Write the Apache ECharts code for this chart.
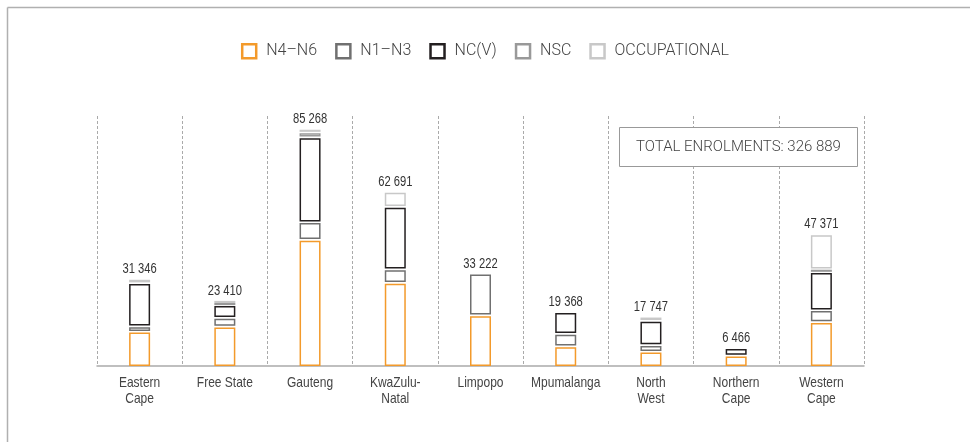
<!DOCTYPE html>
<html>
<head>
<meta charset="utf-8">
<script src="https://cdn.jsdelivr.net/npm/echarts@6/dist/echarts.min.js"></script>
<style>
html,body{margin:0;padding:0;background:#fff;}
#chart{width:970px;height:442px;}
</style>
</head>
<body>
<div id="chart"></div>
<script>
const categories = ['Eastern\nCape', 'Free State', 'Gauteng', 'KwaZulu-\nNatal', 'Limpopo', 'Mpumalanga', 'North\nWest', 'Northern\nCape', 'Western\nCape'];
const seriesNames = ['N4–N6', 'N1–N3', 'NC(V)', 'NSC', 'OCCUPATIONAL'];
const n4n6 = [12330, 14200, 45400, 29900, 18200, 7070, 5130, 3700, 15800];
const n1n3 = [1940, 3100, 6350, 4900, 15022, 4470, 2400, 0, 4270];
const ncv = [15540, 4600, 30550, 22500, 0, 7828, 8720, 2766, 13750];
const nsc = [0, 800, 1780, 0, 0, 0, 0, 0, 930];
const occupational = [1536, 710, 1188, 5391, 0, 0, 1497, 0, 12621];
const colors = ['#f39a2b', '#707070', '#231f20', '#999999', '#c8c8c8'];

const allSeries = [n4n6, n1n3, ncv, nsc, occupational];
const totals = categories.map((c, i) => allSeries.reduce((s, arr) => s + arr[i], 0));
const grandTotal = totals.reduce((a, b) => a + b, 0);
const fmt = v => String(v).replace(/\B(?=(\d{3})+(?!\d))/g, ' ');

const LIGHT = 'Roboto, "Liberation Sans", sans-serif';
const NARROWBASE = '"Liberation Sans", Arial, sans-serif';
const G = 1.6;
const BW = 19.5;

function makeRender(color) {
  return function (params, api) {
    const i = api.value(0), base = api.value(1), v = api.value(2);
    if (!v) return;
    const x = api.coord([i, 0])[0];
    const yb = api.coord([i, base])[1];
    const yt = api.coord([i, base + v])[1];
    let top = yt + G;
    let bottom = base === 0 ? yb - 0.75 : yb - G;
    if (bottom - top < 0.6) { const m = (top + bottom) / 2; top = m - 0.3; bottom = m + 0.3; }
    return {
      type: 'rect',
      shape: { x: x - BW / 2, y: top, width: BW, height: bottom - top },
      style: { fill: '#fff', stroke: color, lineWidth: 1.5 }
    };
  };
}

const cum = categories.map(() => 0);
const series = allSeries.map((arr, s) => {
  const data = arr.map((v, i) => { const d = [i, cum[i], v]; cum[i] += v; return d; });
  return {
    name: seriesNames[s],
    type: 'custom',
    renderItem: makeRender(colors[s]),
    data: data,
    encode: { x: 0, y: 2 },
    itemStyle: { color: '#fff', borderColor: colors[s], borderWidth: 2.5 },
    silent: true,
    animation: false
  };
});
// totals above each stack
series.push({
  name: 'totals',
  type: 'custom',
  data: totals.map((t, i) => [i, t]),
  encode: { x: 0, y: 1 },
  renderItem: function (params, api) {
    const p = api.coord([api.value(0), api.value(1)]);
    return {
      type: 'text',
      x: p[0], y: p[1] - 10,
      scaleX: 0.8,
      style: {
        x: 0, y: 0,
        text: fmt(api.value(1)),
        align: 'center', verticalAlign: 'middle',
        font: '14px ' + NARROWBASE,
        fill: '#333'
      }
    };
  },
  silent: true,
  animation: false
});
// category labels under the axis (condensed)
series.push({
  name: 'catLabels',
  type: 'custom',
  data: categories.map((c, i) => [i, 0]),
  encode: { x: 0, y: 1 },
  clip: false,
  renderItem: function (params, api) {
    const i = api.value(0);
    const p = api.coord([i, 0]);
    return {
      type: 'text',
      x: p[0], y: p[1] + 9,
      scaleX: 0.8,
      style: {
        x: 0, y: 0,
        text: categories[i],
        align: 'center', verticalAlign: 'top',
        font: '15px ' + NARROWBASE,
        lineHeight: 16,
        fill: '#444'
      }
    };
  },
  silent: true,
  animation: false
});

const chart = echarts.init(document.getElementById('chart'), null, { renderer: 'canvas' });
chart.setOption({
  animation: false,
  backgroundColor: '#fff',
  legend: {
    top: 38,
    left: 'center',
    itemWidth: 14,
    itemHeight: 14,
    itemGap: 18,
    icon: 'rect',
    selectedMode: false,
    textStyle: { fontFamily: LIGHT, fontSize: 16, fontWeight: 300, color: '#444', padding: [0, 0, 0, 5] },
    data: seriesNames.map((n, s) => ({
      name: n,
      itemStyle: { color: '#fff', borderColor: colors[s], borderWidth: 2.5 }
    }))
  },
  grid: { left: 97, right: 106, top: 116, bottom: 76, containLabel: false },
  xAxis: {
    type: 'category',
    data: categories,
    boundaryGap: true,
    axisLine: { show: true, lineStyle: { color: '#aaaaaa', width: 1.5 } },
    axisTick: { show: false, interval: 0 },
    splitLine: { show: true, interval: 0, lineStyle: { color: '#aaaaaa', width: 1, type: [3, 2] } },
    axisLabel: { show: false, interval: 0 }
  },
  yAxis: {
    type: 'value', min: 0, max: 90000,
    show: false,
    splitLine: { show: false }
  },
  series: series,
  graphic: [
    { type: 'line', shape: { x1: 7.5, y1: 7.5, x2: 970, y2: 7.5 }, style: { stroke: '#b0b0b0', lineWidth: 1.5 }, silent: true },
    { type: 'line', shape: { x1: 7.5, y1: 7.5, x2: 7.5, y2: 442 }, style: { stroke: '#b0b0b0', lineWidth: 1.5 }, silent: true },
    { type: 'rect', shape: { x: 619.5, y: 127.5, width: 238, height: 39 }, style: { fill: '#fff', stroke: '#999', lineWidth: 1 }, silent: true, z: 10 },
    { type: 'text', x: 738.5, y: 147, style: { text: 'TOTAL ENROLMENTS: ' + fmt(grandTotal), align: 'center', verticalAlign: 'middle', font: '300 15px ' + LIGHT, fill: '#444' }, silent: true, z: 11 }
  ]
});
</script>
</body>
</html>
